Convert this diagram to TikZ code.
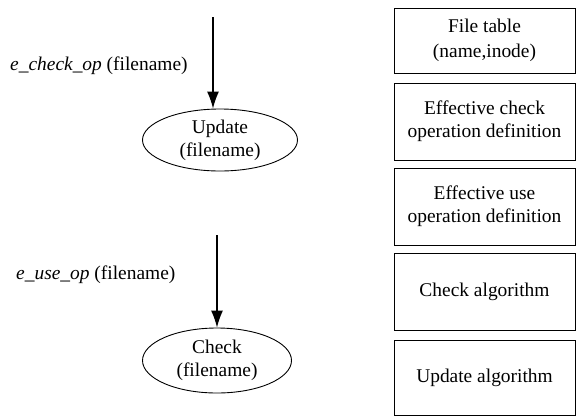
\documentclass[tikz,border=0pt]{standalone}
\usepackage{fontspec}
\setmainfont{Liberation Serif}
\usetikzlibrary{shapes.geometric,arrows.meta}
\begin{document}
\begin{tikzpicture}[x=1bp,y=-1bp,
  every node/.style={font=\fontsize{19.5}{23}\selectfont},
  infobox/.style={draw,line width=0.9pt,minimum width=181bp,align=center,inner sep=0pt},
  opnode/.style={draw,ellipse,line width=0.9pt,align=center,inner sep=0pt},
  flow/.style={line width=1.3pt,-{Latex[length=17bp,width=12bp]}},
  lbl/.style={anchor=west,inner sep=0pt}]
\useasboundingbox (0,0) rectangle (576,417);
\node[infobox,minimum height=65bp,font=\fontsize{19.5}{25}\selectfont] (ft) at (484.5,40.5) {File table\\(name,inode)};
\node[infobox,minimum height=77bp] (ec) at (484.5,121.5) {Effective check\\operation definition};
\node[infobox,minimum height=77bp] (eu) at (484.5,206.5) {Effective use\\operation definition};
\node[infobox,minimum height=77bp] (ca) at (484.5,291.5) {Check algorithm};
\node[infobox,minimum height=75bp] (ua) at (484.5,377.5) {Update algorithm};
\node[opnode,minimum width=155bp,minimum height=62bp] (up) at (220,140) {Update\\(filename)};
\node[opnode,minimum width=149bp,minimum height=65bp] (ck) at (217,360.5) {Check\\(filename)};
\coordinate (s1) at (213,17);
\coordinate (s2) at (217,235);
\draw[flow] (s1) -- (s1 |- up.north);
\draw[flow] (s2) -- (s2 |- ck.north);
\node[lbl] (l1) at (10,66) {\textit{e\_check\_op} (filename)};
\node[lbl] (l2) at (16,275) {\textit{e\_use\_op} (filename)};
\end{tikzpicture}
\end{document}
